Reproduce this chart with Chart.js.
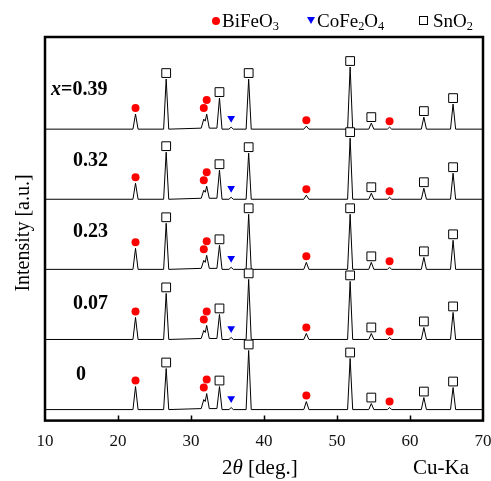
<!DOCTYPE html>
<html>
<head>
<meta charset="utf-8">
<script src="https://cdn.jsdelivr.net/npm/chart.js@4.4.1/dist/chart.umd.min.js"></script>
<style>
    html, body { margin: 0; padding: 0; background: #fff; }
    #wrap { position: relative; width: 491px; height: 481px; font-family: "Liberation Serif", "Times New Roman", serif; color: #000; }
    #wrap canvas { position: absolute; left: 0; top: 0; }
    .lbl { position: absolute; white-space: nowrap; line-height: 1; }
    .smp { font-weight: bold; font-size: 20px; transform: translateY(-50%); }
    .leg { font-size: 19px; top: 11px; }
    .leg sub, .ttl sub { font-size: 0.65em; vertical-align: -0.25em; }
    .dot { display: inline-block; width: 8px; height: 8px; border-radius: 50%; background: #ff0000; margin-right: 2px; vertical-align: 2px; }
    .tri { display: inline-block; width: 0; height: 0; border-left: 4px solid transparent; border-right: 4px solid transparent; border-top: 7px solid #0000ff; margin-right: 2px; vertical-align: 3px; }
    .sq { display: inline-block; width: 7px; height: 7px; border: 1px solid #000; background: #fff; margin-right: 5px; vertical-align: 2px; }
</style>
</head>
<body>
<div id="wrap">
    <canvas id="xrd" width="491" height="481"></canvas>
    <div class="lbl leg" style="left:212px"><span class="dot"></span>BiFeO<sub>3</sub></div>
    <div class="lbl leg" style="left:307px"><span class="tri"></span>CoFe<sub>2</sub>O<sub>4</sub></div>
    <div class="lbl leg" style="left:419px"><span class="sq"></span>SnO<sub>2</sub></div>

    <div class="lbl smp" style="left:51px; top:88px"><i>x</i>=0.39</div>
    <div class="lbl smp" style="left:73px; top:159px">0.32</div>
    <div class="lbl smp" style="left:73px; top:230px">0.23</div>
    <div class="lbl smp" style="left:73px; top:302px">0.07</div>
    <div class="lbl smp" style="left:76px; top:373px">0</div>

    <div class="lbl ttl" style="left:222px; top:457px; font-size:21px">2<i>θ</i> [deg.]</div>
    <div class="lbl ttl" style="left:413px; top:457px; font-size:21px">Cu-Ka</div>
    <div class="lbl ttl" style="left:22px; top:233px; font-size:20px; transform: translate(-50%,-50%) rotate(-90deg)">Intensity [a.u.]</div>
</div>

<script>
// 2θ sampling points (deg.)
const twoTheta = [10,
    22.05, 22.4, 22.75,
    26.25, 26.6, 26.95,
    31.4, 31.75, 31.95, 32.15, 32.5,
    33.55, 33.9, 34.25,
    35.2, 35.5, 35.8,
    37.55, 37.9, 38.25,
    45.45, 45.8, 46.15,
    51.45, 51.8, 52.15,
    54.35, 54.7, 55.05,
    56.9, 57.2, 57.5,
    61.55, 61.9, 62.25,
    65.55, 65.9, 66.25,
    70];

// sample labels (top to bottom)
const samples = ['0.39', '0.32', '0.23', '0.07', '0'];

// intensity above background (a.u.) for each sample, same length as twoTheta
const int039 = [0, 0,15,0, 0,50,0, 1,10,8,15,1, 1,31,0, 0,2,0, 0,50,0, 0,3,0, 0,62,0, 0,6,0, 0,2,0, 0,12,0, 0,25,0, 0];
const int032 = [0, 0,16,0, 0,47,0, 1,9,7,13,1, 1,29,0, 0,2,0, 0,46,0, 0,4,0, 0,61,0, 0,6,0, 0,2,0, 0,11,0, 0,26,0, 0];
const int023 = [0, 0,21,0, 0,46,0, 1,9,7,14,1, 1,24,0, 0,2,0, 0,55,0, 0,7,0, 0,55,0, 0,7,0, 0,2,0, 0,12,0, 0,29,0, 0];
const int007 = [0, 0,22,0, 0,46,0, 1,9,7,14,1, 1,25,0, 0,2,0, 0,60,0, 0,6,0, 0,58,0, 0,6,0, 0,2,0, 0,12,0, 0,27,0, 0];
const int000 = [0, 0,23,0, 0,41,0, 1,10,8,16,1, 1,23,0, 0,2,0, 0,59,0, 0,8,0, 0,51,0, 0,6,0, 0,2,0, 0,12,0, 0,22,0, 0];

// vertical offsets used to stack the patterns
const offsets = [291, 221, 151, 81, 11];

// phase peak positions (2θ)
const bfoPeaks = [22.4, 31.75, 32.15, 45.8, 57.2];
const cfoPeaks = [35.5];
const snoPeaks = [26.6, 33.9, 37.9, 51.8, 54.7, 61.9, 65.9];

const allInt = [int039, int032, int023, int007, int000];

// peak top for a given position (the BiFeO3 doublet uses the main 32.15 peak)
function peakTop(k, pos) {
    const p = (pos === 31.75) ? 32.15 : pos;
    const i = twoTheta.indexOf(p);
    return offsets[k] + allInt[k][i];
}
function markerLift(pos) {
    if (pos === 31.75) return 6;
    if (pos === 32.15) return 14;
    return 6;
}

const datasets = [];
allInt.forEach((vals, k) => {
    datasets.push({
        label: samples[k],
        data: twoTheta.map((t, i) => ({ x: t, y: offsets[k] + vals[i] })),
        showLine: true,
        borderColor: '#000',
        borderWidth: 1,
        pointRadius: 0,
        tension: 0,
        order: 2
    });
});

const bfoPts = [], cfoPts = [], snoPts = [];
allInt.forEach((vals, k) => {
    bfoPeaks.forEach(p => bfoPts.push({ x: p, y: peakTop(k, p) + markerLift(p) }));
    cfoPeaks.forEach(p => cfoPts.push({ x: p, y: peakTop(k, p) + 9 }));
    snoPeaks.forEach(p => snoPts.push({ x: p, y: peakTop(k, p) + 6 }));
});

datasets.push({
    label: 'BiFeO3', data: bfoPts, pointStyle: 'circle', pointRadius: 4,
    backgroundColor: '#ff0000', borderColor: '#ff0000', borderWidth: 0, order: 0
});
datasets.push({
    label: 'CoFe2O4', data: cfoPts, pointStyle: 'triangle', rotation: 180, pointRadius: 4.5,
    backgroundColor: '#0000ff', borderColor: '#0000ff', borderWidth: 0, order: 0
});
datasets.push({
    label: 'SnO2', data: snoPts, pointStyle: 'rect', pointRadius: 6.2,
    backgroundColor: '#fff', borderColor: '#000', borderWidth: 1, order: 0
});

// frame and inward ticks
const framePlugin = {
    id: 'frame',
    afterDraw(chart) {
        const { ctx, chartArea: a, scales } = chart;
        ctx.save();
        ctx.strokeStyle = '#000';
        ctx.lineWidth = 1.5;
        ctx.beginPath();
        [20, 30, 40, 50, 60].forEach(v => {
            const px = Math.round(scales.x.getPixelForValue(v)) + 0.5;
            ctx.moveTo(px, a.bottom);
            ctx.lineTo(px, a.bottom - 5);
        });
        ctx.stroke();
        ctx.lineWidth = 2.5;
        ctx.strokeRect(a.left, a.top, a.right - a.left, a.bottom - a.top);
        ctx.restore();
    }
};

new Chart(document.getElementById('xrd'), {
    type: 'scatter',
    data: { datasets },
    options: {
        responsive: false,
        animation: false,
        layout: { padding: { left: 45, right: 8, top: 37, bottom: 18 } },
        plugins: {
            legend: { display: false },
            tooltip: { enabled: false }
        },
        scales: {
            x: {
                type: 'linear',
                min: 10,
                max: 70,
                afterFit(scale) {
                    scale.paddingLeft = 0;
                    scale.paddingRight = 0;
                },
                ticks: {
                    stepSize: 10,
                    padding: 11,
                    color: '#111',
                    font: { family: '"Liberation Serif", serif', size: 17 }
                },
                grid: { display: false, drawTicks: false },
                border: { display: false }
            },
            y: {
                display: false,
                min: 0,
                max: 383
            }
        }
    },
    plugins: [framePlugin]
});
</script>
</body>
</html>
